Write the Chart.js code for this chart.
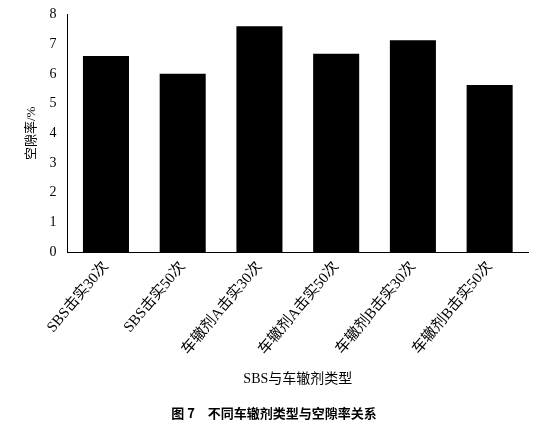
<!DOCTYPE html>
<html><head><meta charset="utf-8">
<script src="https://cdn.jsdelivr.net/npm/chart.js@4/dist/chart.umd.min.js"></script>
<style>html,body{margin:0;background:#fff}#wrap{width:538px;height:437px}</style>
</head><body>
<div id="wrap"><canvas id="c"></canvas></div>
<script>
// ---- data ----
const categories = ['SBS击实30次','SBS击实50次','车辙剂A击实30次','车辙剂A击实50次','车辙剂B击实30次','车辙剂B击实50次'];
const voidRatio = [6.6, 6.0, 7.6, 6.68, 7.13, 5.63];
const yTicks = [0,1,2,3,4,5,6,7,8];

const serif = "'Liberation Serif','Noto Sans CJK SC',serif";

new Chart(document.getElementById('c'), {
  type: 'bar',
  data: {
    labels: categories,
    datasets: [{ data: voidRatio, backgroundColor: '#000', barPercentage: 0.6, categoryPercentage: 1 }]
  },
  options: {
    responsive: true, maintainAspectRatio: false, animation: false,
    layout: { padding: { top: 4, right: 10, left: 20, bottom: 4 } },
    plugins: {
      legend: { display: false }, tooltip: { enabled: false },
      title: {
        display: true, position: 'bottom', text: '图 7　不同车辙剂类型与空隙率关系',
        color: '#000', font: { family: "'Noto Sans CJK SC'", size: 13, weight: 'bold' },
        padding: { top: 14, bottom: 12 }
      }
    },
    scales: {
      x: {
        grid: { display: false, drawTicks: false },
        border: { color: '#000' },
        ticks: { color: '#000', font: { family: serif, size: 15 }, maxRotation: 50, minRotation: 50, padding: 6 },
        title: { display: true, text: 'SBS与车辙剂类型', color: '#000', font: { family: serif, size: 14 }, padding: { top: 6 } }
      },
      y: {
        min: 0, max: 8,
        afterBuildTicks: a => { a.ticks = yTicks.map(v => ({ value: v })); },
        grid: { display: false, drawOnChartArea: false, drawTicks: true, tickLength: 5, color: '#000' },
        border: { color: '#000' },
        ticks: { color: '#000', font: { family: serif, size: 14 }, padding: 6 },
        title: { display: true, text: '空隙率/%', color: '#000', font: { family: serif, size: 13 } }
      }
    }
  }
});
</script>
</body></html>
